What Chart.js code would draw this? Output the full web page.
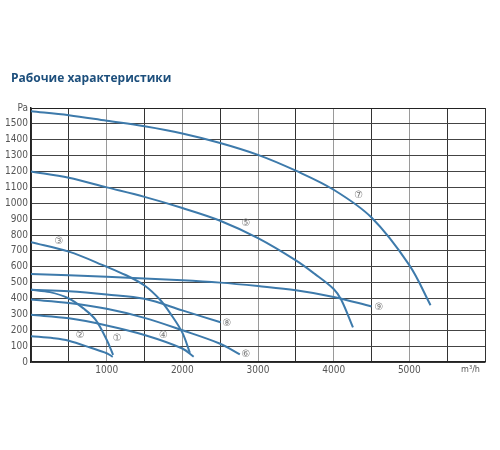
<!DOCTYPE html>
<html>
<head>
<meta charset="utf-8">
<script src="https://cdn.jsdelivr.net/npm/chart.js@4.4.1/dist/chart.umd.min.js"></script>
<style>
  html, body { margin: 0; padding: 0; background: #fff; }
  #wrap { position: relative; width: 500px; height: 450px; }
</style>
</head>
<body>
<div id="wrap"><canvas id="fan-chart" width="500" height="450"></canvas></div>
<script>
// Flow (m³/h) vs pressure (Pa) for each fan curve
const curve1 = [[0, 455], [250, 440], [500, 400], [700, 335], [850, 268], [1000, 140], [1085, 45]];
const curve2 = [[0, 163], [300, 150], [500, 134], [800, 88], [1000, 55], [1080, 33]];
const curve3 = [[0, 755], [500, 695], [1000, 600], [1250, 548], [1500, 482], [1700, 395], [1850, 300], [2000, 185], [2100, 58]];
const curve4 = [[0, 297], [500, 275], [1000, 230], [1500, 170], [2000, 85], [2150, 33]];
const curve5 = [[0, 1200], [500, 1160], [1000, 1100], [1500, 1040], [2000, 970], [2500, 890], [3000, 780], [3500, 640], [3750, 555], [4000, 460], [4100, 392], [4255, 218]];
const curve6 = [[0, 393], [500, 372], [1000, 335], [1500, 278], [2000, 200], [2500, 115], [2760, 48]];
const curve7 = [[0, 1580], [500, 1555], [1000, 1520], [1500, 1485], [2000, 1440], [2500, 1380], [3000, 1305], [3500, 1205], [4000, 1085], [4500, 910], [5000, 610], [5280, 358]];
const curve8 = [[0, 455], [500, 445], [1000, 425], [1500, 398], [2000, 325], [2505, 250]];
const curve9 = [[0, 555], [1000, 537], [2000, 515], [2500, 500], [3000, 478], [3500, 452], [4000, 410], [4500, 350]];

const curves = [curve1, curve2, curve3, curve4, curve5, curve6, curve7, curve8, curve9];

// Circled curve numbers and where they sit (data units)
const markText = ["①", "②", "③", "④", "⑤", "⑥", "⑦", "⑧", "⑨"];
const markX = [1140, 650, 370, 1750, 2840, 2840, 4330, 2590, 4600];
const markY = [150, 165, 760, 165, 870, 50, 1050, 245, 343];

const chartTitle = "Рабочие характеристики";
const xMax = 6000;
const yMax = 1600;
const xUnit = "m³/h";
const yUnit = "Pa";

const LINE = "#3d7aab";
const TICK_FONT = "'Liberation Sans Narrow', 'DejaVu Sans Condensed', Roboto, sans-serif";

// title, numbers on curves + the m³/h unit at the right end of the x axis
const annotations = {
  id: "annotations",
  afterDatasetsDraw(chart) {
    const { ctx, chartArea, scales } = chart;
    ctx.save();
    ctx.textBaseline = "middle";

    ctx.fillStyle = "#1d4f7c";
    ctx.font = "bold 12px 'Open Sans', sans-serif";
    ctx.textAlign = "left";
    ctx.fillText(chartTitle, 11, chartArea.top - 29);

    ctx.fillStyle = "#777";
    ctx.font = "10px 'DejaVu Sans', sans-serif";
    ctx.textAlign = "center";
    markText.forEach((t, i) => {
      ctx.fillText(t, scales.x.getPixelForValue(markX[i]), scales.y.getPixelForValue(markY[i]));
    });

    ctx.fillStyle = "#555";
    ctx.font = "9px " + TICK_FONT;
    ctx.textAlign = "right";
    ctx.fillText(xUnit, chartArea.right - 5, chartArea.bottom + 8);
    ctx.restore();
  },
};

new Chart(document.getElementById("fan-chart"), {
  type: "scatter",
  data: {
    datasets: curves.map((c, i) => ({
      label: markText[i],
      data: c.map((p) => ({ x: p[0], y: p[1] })),
      showLine: true,
      borderColor: LINE,
      backgroundColor: LINE,
      borderWidth: 2,
      pointRadius: 0,
      tension: 0.35,
    })),
  },
  options: {
    responsive: false,
    animation: false,
    layout: { padding: { left: 0, right: 15, top: 108, bottom: 68 } },
    plugins: {
      legend: { display: false },
      tooltip: { enabled: false },
      title: { display: false },
    },
    scales: {
      x: {
        type: "linear",
        min: 0,
        max: xMax,
        afterFit: (s) => { s.height = 20; },
        ticks: {
          stepSize: 500,
          padding: 2,
          color: "#555",
          font: { family: TICK_FONT, size: 10 },
          maxRotation: 0,
          autoSkip: false,
          callback: (v) => (v > 0 && v < xMax && v % 1000 === 0 ? String(v) : ""),
        },
        grid: {
          drawTicks: false,
          color: (c) => (c.tick && c.tick.value % 1000 === 0 && c.tick.value > 0 && c.tick.value < xMax ? "#9a9a9a" : "#333"),
          lineWidth: 1,
        },
        border: { color: "#222", width: 1.5 },
      },
      y: {
        min: 0,
        max: yMax,
        afterFit: (s) => { s.width = 31; },
        ticks: {
          stepSize: 100,
          padding: 3,
          color: "#555",
          font: { family: TICK_FONT, size: 10 },
          autoSkip: false,
          callback: (v) => (v === yMax ? yUnit : String(v)),
        },
        grid: {
          drawTicks: false,
          color: (c) => (c.tick && c.tick.value === yMax ? "#222" : "#444"),
          lineWidth: 1,
        },
        border: { color: "#222", width: 1.5 },
      },
    },
  },
  plugins: [annotations],
});
</script>
</body>
</html>
